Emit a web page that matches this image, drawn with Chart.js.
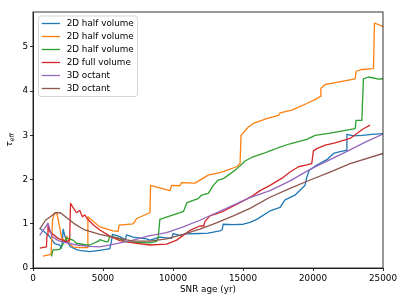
<!DOCTYPE html>
<html>
<head>
<meta charset="utf-8">
<script src="https://cdn.jsdelivr.net/npm/chart.js@4.4.1/dist/chart.umd.min.js"></script>
<style>
  html, body { margin: 0; padding: 0; background: #fff; }
  canvas { display: block; }
</style>
</head>
<body>
<canvas id="chart" width="407" height="305"></canvas>
<script>
// ── Dati ───────────────────────────────────────
const labels = ['2D half volume', '2D half volume', '2D half volume', '2D full volume', '3D octant', '3D octant'];
const colors = ['#1f77b4', '#ff7f0e', '#2ca02c', '#d62728', '#9467bd', '#8c564b'];

const xTicks = [0, 5000, 10000, 15000, 20000, 25000];
const yTicks = [0, 1, 2, 3, 4, 5];

// 2D half volume (blu)
const ageHalfA = [480, 800, 1190, 1550, 1910, 2030, 2100, 2150, 2300, 2400, 2510, 2670, 3150, 3340, 4050, 4770, 5200, 5490, 5600, 5680, 6200, 6500, 6600, 6680, 7150, 8110, 8350, 9060, 9900, 9950, 10010, 10490, 10970, 11920, 12500, 13350, 13500, 13590, 14310, 15020, 15500, 15980, 16930, 17650, 18000, 18720, 19200, 19430, 19560, 19740, 20270, 20990, 21460, 21940, 22370, 22420, 22890, 23500, 24200, 25000];
const tauHalfA = [0.90, 0.82, 0.71, 0.55, 0.52, 0.45, 0.60, 0.88, 0.70, 0.62, 0.56, 0.48, 0.41, 0.40, 0.37, 0.40, 0.42, 0.44, 0.60, 0.76, 0.71, 0.66, 0.64, 0.75, 0.70, 0.66, 0.63, 0.70, 0.67, 0.72, 0.78, 0.74, 0.77, 0.78, 0.79, 0.84, 0.86, 0.99, 0.98, 0.99, 1.03, 1.10, 1.29, 1.37, 1.54, 1.65, 1.80, 1.87, 2.06, 2.21, 2.33, 2.45, 2.59, 2.63, 2.66, 3.02, 2.99, 3.00, 3.02, 3.04];

// 2D half volume (arancio)
const ageHalfB = [715, 1290, 1330, 1400, 1550, 1720, 2050, 2300, 2400, 2550, 2700, 2900, 3300, 3880, 3920, 4770, 5720, 6080, 6150, 7150, 7250, 7400, 8350, 8400, 9180, 9780, 9900, 10490, 10610, 11570, 12520, 13480, 14550, 14790, 14860, 15380, 15740, 16690, 17530, 17650, 18480, 19560, 20270, 20510, 20560, 20870, 21220, 23010, 23080, 23490, 24320, 24390, 24800, 25000];
const tauHalfB = [0.27, 0.31, 0.31, 1.10, 1.25, 1.22, 0.68, 0.60, 0.72, 0.62, 0.52, 0.47, 0.46, 0.46, 1.16, 0.93, 0.84, 0.83, 0.97, 1.00, 1.04, 1.12, 1.25, 1.87, 1.80, 1.75, 1.87, 1.86, 1.93, 1.92, 2.10, 2.17, 2.29, 2.36, 3.00, 3.19, 3.27, 3.38, 3.45, 3.51, 3.57, 3.72, 3.83, 3.88, 4.06, 4.15, 4.17, 4.28, 4.45, 4.49, 4.51, 5.54, 5.49, 5.46];

// 2D half volume (verde)
const ageHalfC = [1320, 1430, 1600, 1910, 2030, 2100, 2390, 2860, 3100, 3820, 4050, 4650, 4770, 5250, 5370, 5490, 6000, 6680, 7500, 8350, 8820, 8940, 9060, 10010, 10490, 10750, 10900, 11000, 11440, 11800, 12050, 12520, 12880, 13230, 13590, 13950, 14430, 14790, 15140, 15620, 16450, 16930, 17530, 18360, 19560, 20150, 21220, 21940, 23010, 23080, 23490, 23600, 23960, 24680, 25000];
const tauHalfC = [0.26, 0.41, 0.41, 0.42, 0.48, 0.52, 0.68, 0.63, 0.56, 0.52, 0.52, 0.60, 0.64, 0.59, 0.60, 0.72, 0.68, 0.59, 0.58, 0.57, 0.60, 0.67, 1.10, 1.20, 1.25, 1.28, 1.40, 1.48, 1.53, 1.57, 1.65, 1.69, 1.87, 1.99, 2.02, 2.10, 2.21, 2.31, 2.42, 2.50, 2.59, 2.65, 2.72, 2.81, 2.91, 3.00, 3.05, 3.09, 3.15, 3.34, 3.34, 4.28, 4.32, 4.27, 4.28];

// 2D full volume (rosso)
const ageFull = [480, 960, 1000, 1070, 1190, 1790, 2390, 2620, 2680, 2800, 3100, 3340, 3530, 3700, 3860, 4300, 4770, 5490, 6200, 7150, 8350, 9540, 10260, 11210, 11920, 12200, 12280, 12640, 13480, 14190, 14910, 15620, 16220, 16930, 17880, 18360, 18960, 19560, 19910, 20030, 20270, 20870, 21580, 22650, 23130, 23600, 24080];
const tauFull = [0.45, 0.48, 0.75, 1.01, 0.82, 0.67, 0.59, 0.63, 1.46, 1.40, 1.25, 1.30, 1.16, 1.20, 1.12, 0.98, 0.86, 0.72, 0.62, 0.57, 0.52, 0.54, 0.63, 0.85, 0.95, 0.95, 1.05, 1.18, 1.27, 1.38, 1.50, 1.62, 1.75, 1.87, 2.05, 2.17, 2.29, 2.33, 2.36, 2.65, 2.70, 2.78, 2.83, 2.93, 3.04, 3.15, 3.23];

// 3D octant (viola)
const ageOctA = [480, 1070, 1360, 1800, 2400, 3150, 4000, 4770, 5970, 7150, 8350, 9540, 10730, 11920, 13110, 14310, 15500, 16930, 18360, 19790, 21220, 22500, 23700, 25000];
const tauOctA = [0.74, 1.01, 0.71, 0.62, 0.57, 0.52, 0.49, 0.48, 0.55, 0.63, 0.73, 0.80, 0.93, 1.08, 1.25, 1.42, 1.59, 1.75, 1.97, 2.23, 2.45, 2.65, 2.84, 3.03];

// 3D octant (marrone)
const ageOctB = [480, 890, 1240, 1600, 1960, 2320, 2910, 3630, 4770, 5970, 7150, 8350, 9540, 10730, 11920, 13110, 14310, 15500, 16930, 18360, 19790, 21220, 22650, 25000];
const tauOctB = [0.88, 1.08, 1.16, 1.25, 1.25, 1.16, 1.01, 0.87, 0.76, 0.68, 0.61, 0.61, 0.66, 0.76, 0.88, 1.02, 1.18, 1.35, 1.60, 1.80, 1.99, 2.17, 2.36, 2.59];

const series = [
    [ageHalfA, tauHalfA],
    [ageHalfB, tauHalfB],
    [ageHalfC, tauHalfC],
    [ageFull,  tauFull],
    [ageOctA,  tauOctA],
    [ageOctB,  tauOctB]
];

// ── Plugin: cornice, legenda, titoli assi ─────
const frameLegend = {
    id: 'frameLegend',
    afterDraw(chart) {
        const { ctx, chartArea: a } = chart;
        ctx.save();

        // cornice completa
        ctx.strokeStyle = '#000';
        ctx.lineWidth = 0.8;
        ctx.strokeRect(a.left, a.top, a.right - a.left, a.bottom - a.top);

        // legenda
        const bx = 38.5, by = 16, bw = 99, bh = 80.5;
        ctx.beginPath();
        ctx.roundRect(bx, by, bw, bh, 2.5);
        ctx.fillStyle = 'rgba(255,255,255,0.8)';
        ctx.fill();
        ctx.strokeStyle = '#cccccc';
        ctx.lineWidth = 0.8;
        ctx.stroke();

        ctx.font = '8.8px "DejaVu Sans"';
        ctx.textBaseline = 'middle';
        ctx.textAlign = 'left';
        labels.forEach((lab, i) => {
            const y = 23.5 + i * 13;
            ctx.beginPath();
            ctx.moveTo(41.7, y);
            ctx.lineTo(60, y);
            ctx.strokeStyle = colors[i];
            ctx.lineWidth = 1.3;
            ctx.stroke();
            ctx.fillStyle = '#000';
            ctx.fillText(lab, 66.7, y + 0.5);
        });

        // titolo asse x
        ctx.textAlign = 'center';
        ctx.fillText('SNR age (yr)', (a.left + a.right) / 2, 290);

        // titolo asse y: tau_eff
        ctx.translate(10, (a.top + a.bottom) / 2);
        ctx.rotate(-Math.PI / 2);
        ctx.textAlign = 'left';
        ctx.font = 'italic 8.8px "DejaVu Sans"';
        const wt = ctx.measureText('τ').width;
        ctx.font = 'italic 6.2px "DejaVu Sans"';
        const we = ctx.measureText('eff').width;
        const x0 = -(wt + we) / 2;
        ctx.font = 'italic 8.8px "DejaVu Sans"';
        ctx.fillText('τ', x0, 0);
        ctx.font = 'italic 6.2px "DejaVu Sans"';
        ctx.fillText('eff', x0 + wt, 2.5);

        ctx.restore();
    }
};

// ── Grafico ───────────────────────────────────
Chart.defaults.font.family = '"DejaVu Sans"';
Chart.defaults.font.size = 8.8;
Chart.defaults.color = '#000';

const n = series.length;
new Chart(document.getElementById('chart'), {
    type: 'line',
    data: {
        datasets: series.map(([xs, ys], i) => ({
            label: labels[i],
            data: xs.map((x, k) => ({ x, y: ys[k] })),
            borderColor: colors[i],
            backgroundColor: colors[i],
            borderWidth: 1.3,
            pointRadius: 0,
            tension: 0,
            fill: false,
            borderJoinStyle: 'round',
            order: n - i
        }))
    },
    options: {
        responsive: false,
        animation: false,
        devicePixelRatio: 1,
        layout: { padding: { left: 0, top: 12, right: 24, bottom: 0 } },
        plugins: { legend: { display: false }, tooltip: { enabled: false } },
        scales: {
            x: {
                type: 'linear',
                min: xTicks[0],
                max: xTicks[xTicks.length - 1],
                afterBuildTicks: s => { s.ticks = xTicks.map(v => ({ value: v })); },
                ticks: { maxRotation: 0, padding: 2, callback: v => String(v) },
                grid: { drawOnChartArea: false, drawTicks: true, tickLength: 3, tickColor: '#000', tickWidth: 0.8 },
                border: { display: true, color: '#000', width: 0.8 },
                afterFit: s => { s.height = 37; }
            },
            y: {
                type: 'linear',
                min: 0,
                max: 5.79,
                afterBuildTicks: s => { s.ticks = yTicks.map(v => ({ value: v })); },
                ticks: { padding: 2, callback: v => String(v) },
                grid: { drawOnChartArea: false, drawTicks: true, tickLength: 3, tickColor: '#000', tickWidth: 0.8 },
                border: { display: true, color: '#000', width: 0.8 },
                afterFit: s => { s.width = 33; }
            }
        }
    },
    plugins: [frameLegend]
});
</script>
</body>
</html>
